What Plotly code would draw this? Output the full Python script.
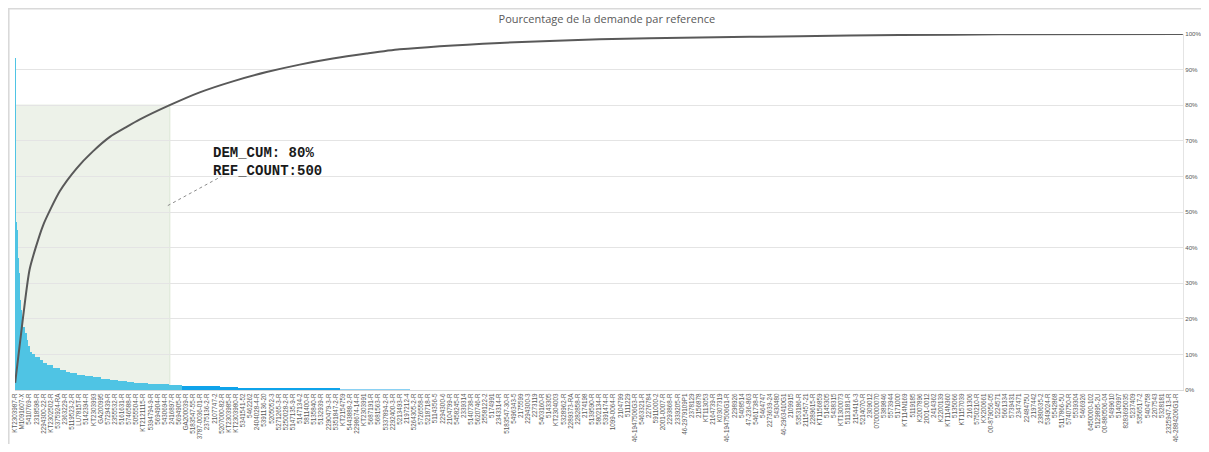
import plotly.graph_objects as go

# nombre total de references et pas des etiquettes
n_refs = 3772
label_step = 23

ref_labels = [
    "KT2303987-R", "M1091607-X", "5410769-R", "2318598-R", "2294300-22-R", "KT2302502-R",
    "5375924-RA", "2363229-R", "5119523-2-R", "LU7815T-R", "5142394-R", "KT2303993",
    "GA200995", "5729439-R", "2355532-R", "5161631-R", "5746588-R", "5055504-R",
    "KT2121115-R", "5394794-9-R", "5694904-R", "5430694-R", "2416897-R", "5694905-R",
    "GA200039-R", "5183547-55-R", "3787-0036-01-R", "2375136-2-R", "2107747-2", "5207000-82-R",
    "KT2303985-R", "KT2303980-R", "5341541-52", "5462262", "2404028-4-R", "5391136-20",
    "5205052-3", "5271265-3-R", "5250028-2-R", "5147135-9-R", "5147134-2", "5811400-R",
    "5135840-R", "5132939-R", "2290479-3-R", "5351847-2-R", "KT2154759", "5443888-2-R",
    "2298674-14-R", "KT2303991", "5687191-R", "5681563-R", "5337894-2-R", "2292400-3-R",
    "5213493-R", "2197212-4", "5264305-2-R", "5726558-R", "5218718-R", "5114356-5",
    "2294300-6", "2104799-R", "5458245-R", "2339314", "5140738-R", "5620746-R",
    "2558122-2", "5174991", "2343314-R", "5183547-30-R", "5496343-5", "2175599",
    "2294300-3", "2273119", "5403160-R", "5143305", "KT2304003", "5328962-R",
    "2289373-RA", "2282858-R", "2174198", "5139590-R", "5802134-R", "5391474-R",
    "1099-0064-R", "2104799", "5111229", "46-1947506G3-R", "5463321-R", "2276784",
    "5911000-2", "2001-0007-R", "2293868-R", "2339205-R", "46-2979109P1", "2378129",
    "2156878", "KT113053", "2164739-R", "K0307319", "46-1947506G1-R", "2298926",
    "5408514", "47-236-863", "5461738-R", "5464747", "2273639-24", "5430480",
    "46-2963410G1", "2109915", "5353186-R", "2115457-21", "2289615-R", "KT1156859",
    "5145305", "5438315", "KT1300073", "5113181-R", "2154416-3", "5214070-R",
    "2309012", "0700000070", "5389846", "5573944", "5171000", "KT114N169",
    "5119185", "K2007896", "2001-0012", "2414362", "K2200139", "KT114N360",
    "5135066", "KT1157039", "2161306", "5750210-R", "KX200661", "00-879056-05",
    "5224571", "5661334", "5739431", "2347471", "2248475U", "2197442",
    "2380635-2", "5349024-R", "5542868", "5117866-5U", "5740750-R", "5539304",
    "5466926", "6450000-102", "5129895-2U", "00-880506-04", "5499610", "5140997",
    "8283695035", "5237409", "5356517-2", "5404758", "2207543", "5328181",
    "2325947-13-R", "46-2884206G1-R",
]

# demande par reference (axe de gauche masque), lue par paliers de rang
bar_rank = [1, 2, 5, 8, 10, 12, 15, 17, 20, 23, 28, 33, 39, 44, 49, 57, 66, 82, 92, 103,
            125, 146, 165, 179, 200, 227, 254, 280, 308, 335, 362, 385, 405, 430, 460, 497,
            540, 600, 662, 720, 800, 920, 1049, 1150, 1200, 1276]
bar_value = [93.4, 47.3, 45, 42, 37, 32.8, 28, 25.3, 22.5, 20.4, 17.8, 15.9, 14.1, 12.3,
             10.8, 10, 9.4, 8.4, 7.7, 7.0, 6.1, 5.6, 5.1, 4.7, 4.2, 3.9, 3.6, 3.2, 2.8,
             2.55, 2.3, 2.1, 1.9, 1.75, 1.55, 1.35, 1.2, 1.0, 0.85, 0.7, 0.55, 0.4, 0.25,
             0.15, 0.1]

# demande cumulee (axe de droite)
cum_rank = [1, 27, 48, 91, 145, 199, 253, 307, 361, 404, 500, 597, 704, 813, 920,
            1027, 1136, 1243, 1566, 1888, 2211, 2534, 2857, 3180, 3772]
cum_pct = [0.02, 0.208, 0.34, 0.462, 0.558, 0.622, 0.671, 0.711, 0.739, 0.76, 0.80,
           0.836, 0.867, 0.893, 0.914, 0.931, 0.945, 0.957, 0.975, 0.985, 0.99, 0.994,
           0.997, 0.999, 1.0]

ref_count_80 = 500
grey = "#595959"

def class_color(rank):
    if rank < ref_count_80:
        return "#4FC4E4"
    if rank < 1049:
        return "#0FA3EA"
    return "#8AD1F3"

widths = [bar_rank[i + 1] - bar_rank[i] for i in range(len(bar_value))]
starts = [r - 0.5 for r in bar_rank[:len(bar_value)]]

fig = go.Figure()

fig.add_trace(go.Bar(
    x=starts, y=bar_value, width=widths, offset=0,
    marker=dict(color=[class_color(r) for r in bar_rank[:len(bar_value)]], line=dict(width=0)),
    yaxis="y", showlegend=False, hoverinfo="skip",
))

fig.add_trace(go.Scatter(
    x=cum_rank, y=cum_pct, mode="lines",
    line=dict(color=grey, width=2, shape="spline", smoothing=0.6),
    yaxis="y2", showlegend=False,
))

tick_vals = [1 + i * label_step for i in range(len(ref_labels))]

# la page ajoute une marge de 8 px autour du graphique
fig.update_layout(
    width=1193, height=436,
    margin=dict(l=7, r=18, t=26, b=54, autoexpand=False),
    paper_bgcolor="white", plot_bgcolor="white",
    bargap=0,
    title=dict(text="Pourcentage de la demande par reference", x=0.502, y=0.975,
               xref="container", yref="container", xanchor="center", yanchor="middle",
               font=dict(family="Open Sans", size=11, color=grey), automargin=False),
    xaxis=dict(range=[0.5, n_refs + 0.5], tickmode="array", tickvals=tick_vals,
               ticktext=ref_labels, tickangle=-90, showgrid=False, zeroline=False,
               showline=True, linecolor="#D9D9D9", ticks="", automargin=False,
               tickfont=dict(family="Liberation Sans Narrow, Liberation Sans", size=6.3, color=grey)),
    yaxis=dict(range=[0, 100], visible=False, showgrid=False, zeroline=False, automargin=False),
    yaxis2=dict(range=[0, 1], overlaying="y", side="right", tickformat=".0%", dtick=0.1,
                showgrid=True, gridcolor="#E4E4E4", gridwidth=1, zeroline=False,
                showline=True, linecolor="#E4E4E4", ticks="", automargin=False,
                ticklabelstandoff=0,
                tickfont=dict(family="Liberation Sans Narrow, Liberation Sans", size=6.2, color=grey)),
    font=dict(family="Liberation Sans"),
)

# zone 80% de la demande
fig.add_shape(type="rect", xref="x", yref="y2", x0=0.5, x1=ref_count_80 + 0.5, y0=0, y1=0.8,
              fillcolor="#EDF2E9", line=dict(color="#DCE6D5", width=1), layer="below")

# trait pointille vers l'etiquette
fig.add_shape(type="line", xref="x", yref="y2", x0=494, y0=0.518, x1=667, y1=0.60,
              line=dict(color="#8C8C8C", width=1, dash="dot"))

fig.add_annotation(
    xref="x", yref="y2", x=633, y=0.64, xanchor="left", yanchor="middle", align="left",
    text="DEM_CUM: 80%<br>REF_COUNT:" + str(ref_count_80), showarrow=False,
    font=dict(family="Liberation Mono", size=14, color="#1A1A1A", weight="bold"),
)

# cadre du graphique
fig.add_shape(type="line", xref="paper", yref="paper", x0=-0.006, x1=1.03, y0=1.0715, y1=1.0715,
              line=dict(color="#D9D9D9", width=2))
fig.add_shape(type="line", xref="paper", yref="paper", x0=-0.0055, x1=-0.0055, y0=-0.2, y1=1.0715,
              line=dict(color="#D9D9D9", width=2))

fig.write_html("out.html")
